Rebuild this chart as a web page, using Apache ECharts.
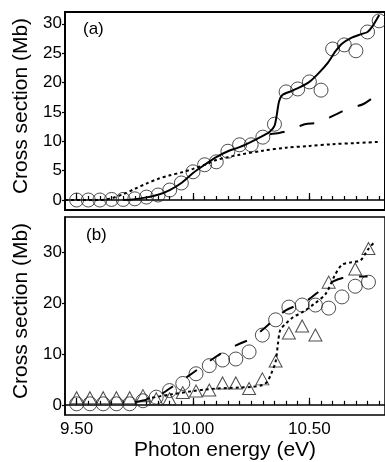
<!DOCTYPE html>
<html>
<head>
<meta charset="utf-8">
<script src="https://cdn.jsdelivr.net/npm/echarts@6/dist/echarts.min.js"></script>
<style>
html, body { margin: 0; padding: 0; background: #fff; }
#chart { width: 385px; height: 462px; }
</style>
</head>
<body>
<div id="chart"></div>
<script>
'use strict';

// ---- panel (a) ----
var energyA = [9.50, 9.55, 9.60, 9.65, 9.70, 9.75, 9.80, 9.85, 9.90, 9.95, 10.00, 10.05, 10.10, 10.15,
    10.20, 10.25, 10.30, 10.35, 10.40, 10.45, 10.50, 10.55, 10.60, 10.65, 10.70, 10.75, 10.80];
var circlesA = [0, 0, 0, 0.1, 0.1, 0.2, 0.5, 0.85, 1.7, 2.9, 4.8, 6.0, 6.5, 8.3,
    9.4, 9.4, 10.7, 12.9, 18.4, 18.9, 20.1, 18.7, 25.7, 26.4, 25.4, 28.6, 30.5];
var solidA = [[9.70, 0], [9.75, 0.15], [9.80, 0.45], [9.85, 0.9], [9.90, 1.7], [9.95, 2.9], [10.00, 4.6],
    [10.05, 6.0], [10.10, 7.3], [10.15, 8.3], [10.20, 9.0], [10.25, 9.9], [10.30, 10.9], [10.33, 11.6],
    [10.35, 12.6], [10.36, 14.5], [10.37, 16.8], [10.385, 17.9], [10.42, 18.5], [10.46, 19.2], [10.50, 20.1],
    [10.54, 21.6], [10.58, 23.4], [10.61, 25.2], [10.64, 26.6], [10.68, 27.6], [10.72, 28.2], [10.75, 28.6],
    [10.77, 29.5], [10.80, 31.5]];
var dashedA = [[10.33, 11.2], [10.37, 11.4], [10.42, 11.9], [10.48, 12.9], [10.54, 13.2], [10.61, 14.5],
    [10.67, 15.6], [10.73, 16.3], [10.78, 17.6], [10.80, 18.2]];
var dottedA = [[9.45, 0], [9.60, 0], [9.65, 0.3], [9.70, 1.0], [9.75, 1.9], [9.80, 2.8], [9.85, 3.6],
    [9.90, 4.2], [9.95, 4.7], [10.00, 5.3], [10.05, 6.0], [10.10, 6.8], [10.15, 7.3], [10.20, 7.7],
    [10.30, 8.4], [10.40, 8.9], [10.50, 9.2], [10.60, 9.5], [10.70, 9.7], [10.80, 9.9]];

// ---- panel (b) ----
var energyB = [9.500, 9.557, 9.614, 9.671, 9.728, 9.785, 9.842, 9.899, 9.956, 10.013, 10.070, 10.127,
    10.184, 10.241, 10.298, 10.355, 10.412, 10.469, 10.526, 10.583, 10.640, 10.697, 10.754];
var circlesB = [0.2, 0.2, 0.2, 0.2, 0.2, 0.8, 1.5, 2.8, 4.2, 6.1, 7.7, 8.8,
    9.0, 10.4, 13.7, 16.7, 19.2, 19.6, 19.6, 19.0, 21.2, 23.3, 24.1];
var trianglesB = [1.4, 1.4, 1.4, 1.4, 1.4, 1.8, 1.2, 1.2, 2.4, 2.7, 2.9, 4.3,
    4.3, 3.2, 5.1, 8.6, 14.1, 15.5, 13.7, 24.1, null, 26.7, 30.7];
var dashedB = [[9.75, 0.5], [9.80, 1.0], [9.85, 1.7], [9.90, 3.2], [9.95, 4.7], [10.00, 6.3], [10.05, 7.9],
    [10.10, 9.5], [10.15, 10.9], [10.20, 12.0], [10.25, 13.0], [10.30, 14.8], [10.35, 16.8], [10.40, 18.6],
    [10.45, 19.6], [10.50, 20.8], [10.55, 22.6], [10.60, 24.2], [10.65, 25.0], [10.70, 25.2], [10.75, 25.2]];
var dottedB = [[9.80, 1.2], [9.90, 2.0], [10.00, 2.7], [10.05, 3.0], [10.10, 3.2], [10.15, 3.3], [10.20, 3.4],
    [10.25, 3.5], [10.30, 3.9], [10.32, 4.6], [10.335, 6.0], [10.355, 8.5], [10.365, 12.0], [10.375, 14.7],
    [10.40, 16.0], [10.43, 17.2], [10.47, 18.2], [10.52, 19.8], [10.57, 21.8], [10.61, 25.5], [10.64, 27.5],
    [10.68, 28.0], [10.72, 28.4], [10.75, 30.4], [10.78, 32.0]];

// ticks
var xMajorTicks = [9.50, 10.00, 10.50];
var xMinorTicks = [9.50, 9.55, 9.60, 9.65, 9.70, 9.75, 9.80, 9.85, 9.90, 9.95, 10.00, 10.05, 10.10,
    10.15, 10.20, 10.25, 10.30, 10.35, 10.40, 10.45, 10.50, 10.55, 10.60, 10.65, 10.70, 10.75, 10.80];
var yTicksA = [0, 5, 10, 15, 20, 25, 30];
var yTicksB = [0, 10, 20, 30];

function pairs(xs, ys) {
    return xs.map(function (x, i) { return [x, ys[i]]; });
}

var font = 'Liberation Sans, Arial, Helvetica, sans-serif';
var chart = echarts.init(document.getElementById('chart'), null, { renderer: 'canvas' });

// x range 9.45 .. 10.825 at 240 px per eV, right border falls outside the canvas
var xMin = 9.45, xMax = 10.825;

function xAxisMain(grid, showLabels) {
    return {
        gridIndex: grid, type: 'value', min: xMin, max: xMax, position: 'bottom',
        axisLine: { show: true, lineStyle: { color: '#000', width: 1.5 } },
        axisTick: { show: true, inside: true, length: 4, customValues: xMinorTicks, lineStyle: { color: '#000', width: 1.2 } },
        axisLabel: {
            show: showLabels, customValues: xMajorTicks, margin: 6,
            fontSize: 17, fontFamily: font, color: '#000',
            formatter: function (v) { return v.toFixed(2); }
        },
        splitLine: { show: false },
        name: showLabels ? 'Photon energy (eV)' : '',
        nameLocation: 'middle', nameGap: 25,
        nameTextStyle: { fontSize: 21, fontFamily: font, color: '#000', padding: [0, 0, 0, 0] }
    };
}
function xAxisMajor(grid) {
    return {
        gridIndex: grid, type: 'value', min: xMin, max: xMax, position: 'bottom',
        axisLine: { show: false },
        axisTick: { show: true, inside: true, length: 7, customValues: xMajorTicks, lineStyle: { color: '#000', width: 1.2 } },
        axisLabel: { show: false },
        splitLine: { show: false }
    };
}
function yAxisMain(grid, min, max, ticks) {
    return {
        gridIndex: grid, type: 'value', min: min, max: max,
        axisLine: { show: true, lineStyle: { color: '#000', width: 1.5 } },
        axisTick: { show: true, inside: false, length: 3, customValues: ticks, lineStyle: { color: '#000', width: 1.2 } },
        axisLabel: { show: true, customValues: ticks, margin: 3, fontSize: 17, fontFamily: font, color: '#000' },
        splitLine: { show: false },
        name: 'Cross section (Mb)', nameLocation: 'middle', nameGap: 30,
        nameTextStyle: { fontSize: 21, fontFamily: font, color: '#000', padding: [0, 0, 0, 10] }
    };
}
function yAxisHidden(grid, min, max) {
    return { gridIndex: grid, type: 'value', min: min, max: max, show: false, splitLine: { show: false } };
}

var circleStyle = { color: 'rgba(0,0,0,0)', borderColor: '#222', borderWidth: 1 };
function lineSeries(xi, yi, data, type, smooth) {
    return {
        type: 'line', xAxisIndex: xi, yAxisIndex: yi, data: data, showSymbol: false, smooth: smooth,
        lineStyle: { color: '#000', width: 2, type: type }, z: 3
    };
}

var option = {
    animation: false,
    backgroundColor: '#fff',
    grid: [
        { left: 65, top: 12, width: 330, height: 198, show: true, borderColor: '#000', borderWidth: 2 },
        { left: 65, top: 12, width: 330, height: 198 },
        { left: 65, top: 217, width: 330, height: 198, show: true, borderColor: '#000', borderWidth: 1.5 },
        { left: 65, top: 217, width: 330, height: 198 }
    ],
    xAxis: [xAxisMain(0, false), xAxisMajor(1), xAxisMain(2, true), xAxisMajor(3)],
    yAxis: [yAxisMain(0, -1.7, 32, yTicksA), yAxisHidden(1, -1.7, 32),
        yAxisMain(2, -2, 36.9, yTicksB), yAxisHidden(3, -2, 36.9)],
    graphic: [
        { type: 'text', left: 83, top: 21, style: { text: '(a)', fontSize: 17, fontFamily: font, fill: '#000' } },
        { type: 'text', left: 86, top: 227, style: { text: '(b)', fontSize: 17, fontFamily: font, fill: '#000' } }
    ],
    series: [
        { type: 'scatter', xAxisIndex: 0, yAxisIndex: 0, data: pairs(energyA, circlesA),
            symbol: 'circle', symbolSize: 14, itemStyle: circleStyle, z: 2 },
        lineSeries(0, 0, dottedA, [3, 3], 0.3),
        lineSeries(0, 0, dashedA, [15, 16], 0.3),
        lineSeries(0, 0, solidA, 'solid', 0.25),

        { type: 'scatter', xAxisIndex: 2, yAxisIndex: 2, data: pairs(energyB, circlesB),
            symbol: 'circle', symbolSize: 14, itemStyle: circleStyle, z: 2 },
        { type: 'scatter', xAxisIndex: 2, yAxisIndex: 2, data: pairs(energyB, trianglesB),
            symbol: 'triangle', symbolSize: [13, 12], itemStyle: circleStyle, z: 2 },
        lineSeries(2, 2, dashedB, [13, 16], 0.3),
        lineSeries(2, 2, dottedB, [3, 3], 0.3)
    ]
};
chart.setOption(option);
</script>
</body>
</html>
